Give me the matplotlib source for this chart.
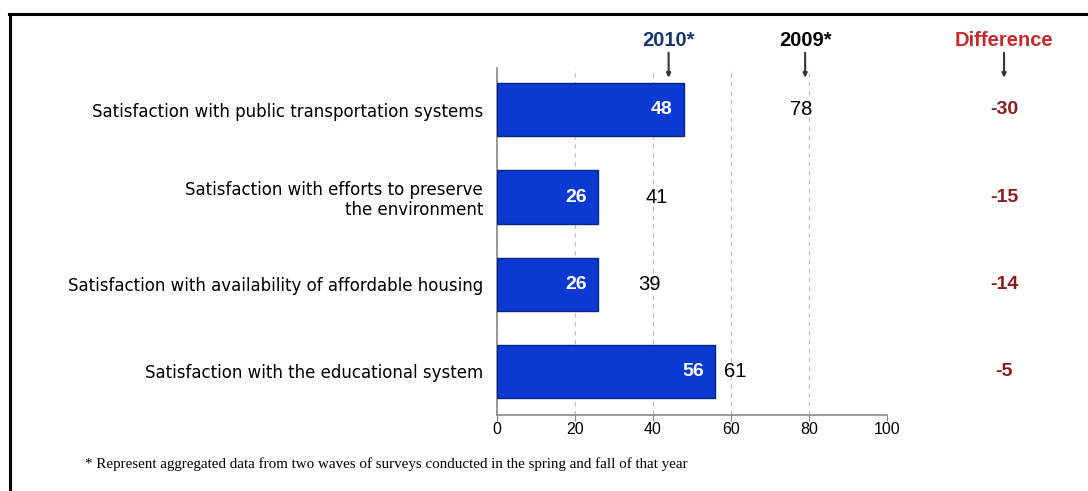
import matplotlib.pyplot as plt
from matplotlib.lines import Line2D

plt.rcParams['font.family'] = ['Liberation Sans', 'DejaVu Sans']

categories = [
    'Satisfaction with public transportation systems',
    'Satisfaction with efforts to preserve\nthe environment',
    'Satisfaction with availability of affordable housing',
    'Satisfaction with the educational system',
]
values_2010 = [48, 26, 26, 56]
values_2009 = [78, 41, 39, 61]
differences = [-30, -15, -14, -5]
x_ticks = [0, 20, 40, 60, 80, 100]
footnote = ('* Represent aggregated data from two waves of surveys '
            'conducted in the spring and fall of that year')

bar_blue = '#0a3ad2'
navy = '#1c3570'
red = '#c8282a'
dark_red = '#8a1c1c'

fig = plt.figure(figsize=(10.88, 4.91), dpi=100)
ax = fig.add_axes([0.4568, 0.1548, 0.3585, 0.7067])

ypos = list(range(len(categories)))
ax.barh(ypos, values_2010, height=0.61, color=bar_blue,
        edgecolor='#0a2580', linewidth=1.0, zorder=3)

for y, v in zip(ypos, values_2010):
    ax.text(v - 3.0, y, str(v), ha='right', va='center', color='white',
            fontsize=14, fontweight='bold', zorder=4)
for y, v in zip(ypos, values_2009):
    ax.text(v, y, str(v), ha='center', va='center', color='black',
            fontsize=14.5, zorder=4)
for y, d in zip(ypos, differences):
    ax.text(130, y, str(d), ha='center', va='center', color=dark_red,
            fontsize=14, fontweight='bold', clip_on=False)

ax.set_xlim(0, 100)
ax.set_ylim(3.5, -0.48)
ax.set_xticks(x_ticks)
ax.set_xticklabels([str(t) for t in x_ticks], fontsize=11.5)
ax.set_yticks(ypos)
ax.set_yticklabels(categories, fontsize=12, linespacing=1.15,
                   family='DejaVu Sans')
ax.tick_params(axis='y', length=0, pad=10)
ax.tick_params(axis='x', length=4, color='#888888', pad=1)

ax.grid(axis='x', color='#bbbbbb', linestyle=(0, (4, 4)), linewidth=0.8, zorder=0)
for side in ['top', 'right']:
    ax.spines[side].set_visible(False)
ax.spines['left'].set_color('#888888')
ax.spines['bottom'].set_color('#888888')
ax.spines['left'].set_linewidth(1.2)
ax.spines['bottom'].set_linewidth(1.2)

# column headers with small downward arrows
trans = ax.get_xaxis_transform()
headers = [('2010*', 44, navy), ('2009*', 79, 'black'), ('Difference', 130, red)]
for label, x, color in headers:
    ax.text(x, 1.08, label, transform=trans, ha='center', va='center',
            fontsize=14.5, fontweight='bold', color=color, clip_on=False)
    ax.annotate('', xy=(x, 0.972), xytext=(x, 1.044), xycoords=trans,
                textcoords=trans,
                arrowprops=dict(arrowstyle='-|>', color='#333333', lw=1.5,
                                mutation_scale=6, shrinkA=0, shrinkB=0))

fig.text(0.078, 0.055, footnote, fontsize=10.8, family='Liberation Serif',
         ha='left', va='center', color='black')

# frame along the top and left edge
fig.add_artist(Line2D([0.0085, 1.0], [0.972, 0.972], color='black', lw=2.2))
fig.add_artist(Line2D([0.0092, 0.0092], [0.0, 0.972], color='black', lw=2.2))

fig.savefig('out.png', dpi=100)
